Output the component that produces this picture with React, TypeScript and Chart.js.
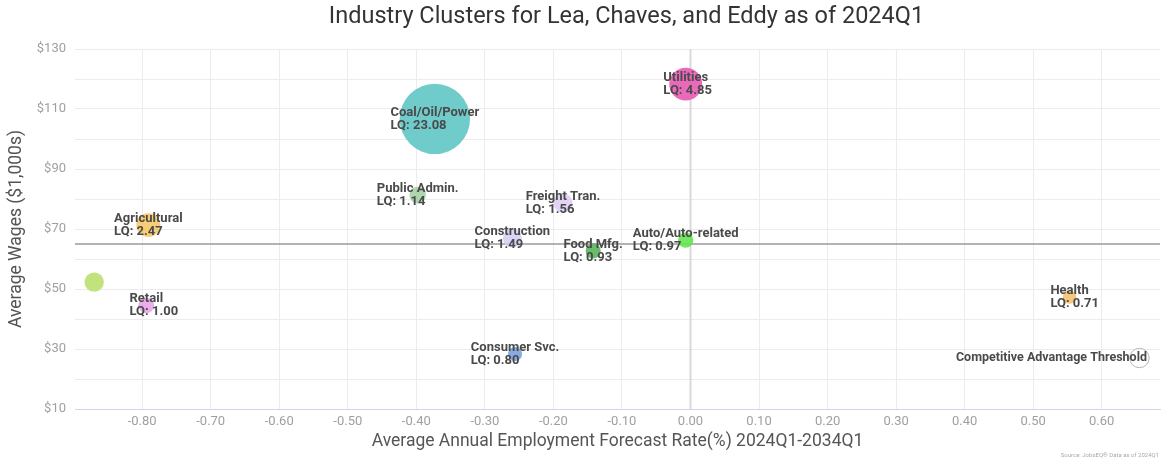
import React, { useEffect, useRef } from 'react';
import { Chart, registerables } from 'chart.js';

Chart.register(...registerables);

const chartTitle = 'Industry Clusters for Lea, Chaves, and Eddy as of 2024Q1';
const xAxisTitle = 'Average Annual Employment Forecast Rate(%) 2024Q1-2034Q1';
const yAxisTitle = 'Average Wages ($1,000s)';
const sourceNote = 'Source: JobsEQ® Data as of 2024Q1';

const industries = ['Coal/Oil/Power', 'Utilities', 'Agricultural', '', 'Retail', 'Public Admin.', 'Freight Tran.', 'Construction', 'Food Mfg.', 'Auto/Auto-related', 'Consumer Svc.', 'Health'];
const forecastRates = [-0.373, -0.007, -0.791, -0.870, -0.794, -0.398, -0.186, -0.260, -0.142, -0.007, -0.256, 0.553];
const averageWages = [106.7, 118.3, 71.3, 52.3, 44.5, 81.3, 78.7, 67.0, 62.7, 66.3, 28.3, 47.3];
const locationQuotients = [23.08, 4.85, 2.47, 1.6, 1.00, 1.14, 1.56, 1.49, 0.93, 0.97, 0.80, 0.71];
const bubbleColors = [
  'rgba(104,200,200,0.95)',
  'rgba(232,98,182,0.95)',
  'rgba(246,196,96,0.85)',
  'rgba(190,224,118,0.95)',
  'rgba(232,160,232,0.85)',
  'rgba(150,200,150,0.75)',
  'rgba(222,204,244,0.85)',
  'rgba(212,204,246,0.85)',
  'rgba(90,180,90,0.9)',
  'rgba(100,230,80,0.9)',
  'rgba(124,160,222,0.9)',
  'rgba(246,192,100,0.85)',
];

const thresholdName = 'Competitive Advantage Threshold';
const thresholdRate = [0.655];
const thresholdWage = [27];
const thresholdLQ = [1.6];

const wageThreshold = 65;
const rateThreshold = 0;
const xMin = -0.898;
const xMax = 0.685;
const yMin = 10;
const yMax = 130;
const yLabelledTicks = [10, 30, 50, 70, 90, 110, 130];

const radiusFor = (lq: number) => 0.6 + 7.2 * Math.sqrt(lq);

const LABEL_FONT = 'bold 13px Roboto';

const App = () => {
  const canvasRef = useRef<HTMLCanvasElement | null>(null);

  useEffect(() => {
    document.body.style.margin = '0';
    const canvas = canvasRef.current;
    if (!canvas) return;

    const refLines = {
      id: 'refLines',
      beforeDatasetsDraw(chart: any) {
        const { ctx, chartArea, scales } = chart;
        const x0 = scales.x.getPixelForValue(rateThreshold);
        const y0 = scales.y.getPixelForValue(wageThreshold);
        ctx.save();
        ctx.strokeStyle = '#d9d9d9';
        ctx.lineWidth = 2;
        ctx.beginPath();
        ctx.moveTo(x0, chartArea.top);
        ctx.lineTo(x0, chartArea.bottom);
        ctx.stroke();
        ctx.strokeStyle = '#9a9a9a';
        ctx.lineWidth = 1.5;
        ctx.beginPath();
        ctx.moveTo(chartArea.left, y0);
        ctx.lineTo(chartArea.right, y0);
        ctx.stroke();
        ctx.restore();
      },
    };

    const labelsPlugin = {
      id: 'bubbleLabels',
      afterDatasetsDraw(chart: any) {
        const { ctx, chartArea } = chart;
        ctx.save();
        ctx.font = LABEL_FONT;
        ctx.fillStyle = '#4a4a4a';
        ctx.textBaseline = 'middle';
        ctx.textAlign = 'left';
        const meta = chart.getDatasetMeta(0);
        meta.data.forEach((el: any, i: number) => {
          const name = industries[i];
          if (!name) return;
          const line2 = 'LQ: ' + locationQuotients[i].toFixed(2);
          const w = ctx.measureText(name).width;
          const x = el.x - w / 2;
          ctx.fillText(name, x, el.y - 6.5);
          ctx.fillText(line2, x, el.y + 6.5);
        });
        ctx.font = 'bold 12.5px Roboto';
        const tMeta = chart.getDatasetMeta(1);
        tMeta.data.forEach((el: any) => {
          const w = ctx.measureText(thresholdName).width;
          let x = el.x - w / 2;
          x = Math.min(x, chartArea.right - 13 - w);
          ctx.fillText(thresholdName, x, el.y);
        });
        ctx.restore();
      },
      afterDraw(chart: any) {
        const { ctx, chartArea } = chart;
        ctx.save();
        ctx.font = '23.5px Roboto';
        ctx.fillStyle = '#333333';
        ctx.textAlign = 'center';
        ctx.textBaseline = 'middle';
        ctx.fillText(chartTitle, (chartArea.left + chartArea.right) / 2 + 9, 17);
        ctx.font = '6px Roboto';
        ctx.fillStyle = '#aaaaaa';
        ctx.textAlign = 'right';
        ctx.fillText(sourceNote, chart.width - 4, 455);
        ctx.restore();
      },
    };

    const chart = new Chart(canvas, {
      type: 'bubble',
      data: {
        datasets: [
          {
            label: 'Industries',
            data: forecastRates.map((x, i) => ({ x, y: averageWages[i], r: radiusFor(locationQuotients[i]) })),
            backgroundColor: bubbleColors,
            borderWidth: 0,
          },
          {
            label: thresholdName,
            data: thresholdRate.map((x, i) => ({ x, y: thresholdWage[i], r: radiusFor(thresholdLQ[i]) })),
            backgroundColor: 'rgba(255,255,255,0.6)',
            borderColor: '#b5b5b5',
            borderWidth: 1,
          },
        ],
      },
      options: {
        responsive: false,
        animation: false,
        layout: { padding: { top: 49, right: 3, left: 0, bottom: 0 } },
        plugins: {
          legend: { display: false },
          tooltip: { enabled: false },
          title: { display: false },
        },
        scales: {
          x: {
            type: 'linear',
            min: xMin,
            max: xMax,
            ticks: {
              stepSize: 0.1,
              includeBounds: false,
              color: '#a0a0a0',
              font: { family: 'Roboto', size: 13 },
              padding: 5,
              callback: (v: any) => Number(v).toFixed(2),
              maxRotation: 0,
            },
            grid: { color: '#ececec', lineWidth: 1, drawTicks: false },
            border: { display: true, color: '#ccd6eb', width: 1 },
            title: {
              display: true,
              text: xAxisTitle,
              color: '#555555',
              font: { family: 'Roboto', size: 17.5 },
              padding: { top: 0, bottom: 7 },
            },
            afterFit: (scale: any) => { scale.height = 50; },
          },
          y: {
            type: 'linear',
            min: yMin,
            max: yMax,
            ticks: {
              stepSize: 10,
              autoSkip: false,
              color: '#a0a0a0',
              font: { family: 'Roboto', size: 13 },
              padding: 9,
              callback: (v: any) => (yLabelledTicks.includes(Number(v)) ? '$' + v : ''),
            },
            grid: { color: '#ececec', lineWidth: 1, drawTicks: false },
            border: { display: false },
            title: {
              display: true,
              text: yAxisTitle,
              color: '#555555',
              font: { family: 'Roboto', size: 17.5 },
              padding: { top: 6, bottom: 0 },
            },
            afterFit: (scale: any) => { scale.width = 75; },
          },
        },
      },
      plugins: [refLines, labelsPlugin],
    });

    // Bubble controllers reserve their largest radius as padding on every side;
    // the reference plot runs to the canvas edge, so drop that reserve.
    [0, 1].forEach((i) => {
      const ctrl: any = chart.getDatasetMeta(i).controller;
      if (ctrl) ctrl.getMaxOverflow = () => false;
    });
    chart.update();

    return () => chart.destroy();
  }, []);

  return (
    <div style={{ width: 1163, height: 459 }}>
      <canvas ref={canvasRef} width={1163} height={459} style={{ display: 'block' }} />
    </div>
  );
};

export default App;
